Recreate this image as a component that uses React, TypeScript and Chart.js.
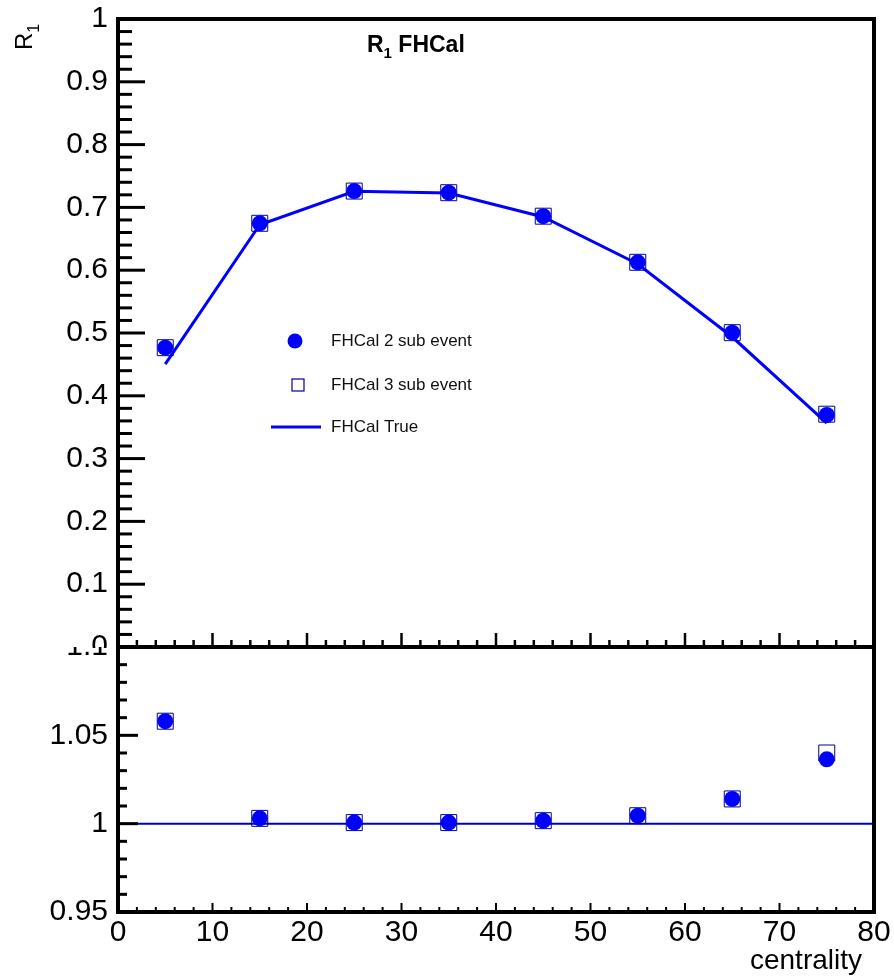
import React, { useEffect, useRef } from 'react';
import { Chart, registerables } from 'chart.js';
Chart.register(...registerables);

// ---------- data ----------
const centrality = [5, 15, 25, 35, 45, 55, 65, 75];
const r1TwoSub = [0.4766, 0.6747, 0.726, 0.7234, 0.686, 0.6126, 0.5005, 0.3694];
const r1ThreeSub = [0.4766, 0.6747, 0.726, 0.7234, 0.686, 0.6126, 0.5005, 0.3707];
const r1True = [0.4505, 0.6724, 0.7256, 0.723, 0.6848, 0.6099, 0.4936, 0.3564];
const ratioTwoSub = [1.058, 1.003, 1.0006, 1.0006, 1.0017, 1.0045, 1.014, 1.0364];
const ratioThreeSub = [1.058, 1.003, 1.0006, 1.0006, 1.0017, 1.0045, 1.014, 1.04];
const unityX = [0, 80];
const unityY = [1, 1];
const legendLabels = ['FHCal 2 sub event', 'FHCal 3 sub event', 'FHCal True'];
const titleMain = 'R';
const titleSub = '1';
const titleRest = ' FHCal';
const yTitleMain = 'R';
const yTitleSub = '1';
const xTitle = 'centrality';

const FONT = "'Liberation Sans', Arial, Helvetica, sans-serif";
const BLUE = '#0000ff';
const NAVY = '#000099';

const pts = (xs: number[], ys: number[]) => xs.map((x, i) => ({ x, y: ys[i] }));
const fmt = (v: any) => String(parseFloat(Number(v).toFixed(2)));

function line(ctx: CanvasRenderingContext2D, x1: number, y1: number, x2: number, y2: number) {
  ctx.beginPath();
  ctx.moveTo(x1, y1);
  ctx.lineTo(x2, y2);
  ctx.stroke();
}

const zeroPad = (s: any) => {
  s.paddingTop = 0;
  s.paddingBottom = 0;
  s.paddingLeft = 0;
  s.paddingRight = 0;
};

export default function App() {
  const topRef = useRef<HTMLCanvasElement>(null);
  const botRef = useRef<HTMLCanvasElement>(null);

  useEffect(() => {
    const topPlugin = {
      id: 'topFrame',
      afterDraw(chart: any) {
        const ctx: CanvasRenderingContext2D = chart.ctx;
        const xs = chart.scales.x;
        const ys = chart.scales.y;
        const a = chart.chartArea;
        ctx.save();
        ctx.strokeStyle = '#000';
        ctx.lineWidth = 3;
        for (let i = 0; i <= 50; i++) {
          const y = ys.getPixelForValue(i * 0.02);
          const len = i % 5 === 0 ? 27 : 14;
          line(ctx, a.left, y, a.left + len, y);
        }
        ctx.lineWidth = 2.5;
        for (let i = 0; i <= 40; i++) {
          const x = xs.getPixelForValue(i * 2);
          const len = i % 5 === 0 ? 14 : 7;
          line(ctx, x, a.bottom, x, a.bottom - len);
        }
        ctx.lineWidth = 4;
        ctx.strokeRect(a.left, a.top, a.right - a.left, a.bottom - a.top);

        // title
        ctx.fillStyle = '#000';
        ctx.textBaseline = 'alphabetic';
        ctx.textAlign = 'left';
        let tx = 367;
        ctx.font = `bold 23px ${FONT}`;
        ctx.fillText(titleMain, tx, 52);
        tx += ctx.measureText(titleMain).width;
        ctx.font = `bold 15px ${FONT}`;
        ctx.fillText(titleSub, tx, 58);
        tx += ctx.measureText(titleSub).width;
        ctx.font = `bold 23px ${FONT}`;
        ctx.fillText(titleRest, tx, 52);

        // y title
        ctx.save();
        ctx.translate(32, 50);
        ctx.rotate(-Math.PI / 2);
        ctx.font = `24px ${FONT}`;
        ctx.fillText(yTitleMain, 0, 0);
        const w = ctx.measureText(yTitleMain).width;
        ctx.font = `16px ${FONT}`;
        ctx.fillText(yTitleSub, w, 7);
        ctx.restore();

        // legend
        ctx.font = `17px ${FONT}`;
        ctx.textBaseline = 'middle';
        ctx.fillStyle = '#111';
        ctx.fillText(legendLabels[0], 331, 341);
        ctx.fillText(legendLabels[1], 331, 385);
        ctx.fillText(legendLabels[2], 331, 427);
        ctx.fillStyle = BLUE;
        ctx.beginPath();
        ctx.arc(295, 341, 7.5, 0, Math.PI * 2);
        ctx.fill();
        ctx.strokeStyle = NAVY;
        ctx.lineWidth = 1.2;
        ctx.strokeRect(292, 379, 12, 12);
        ctx.strokeStyle = BLUE;
        ctx.lineWidth = 3;
        line(ctx, 271, 427, 321, 427);
        ctx.restore();
      },
    };

    const botPlugin = {
      id: 'botFrame',
      afterDraw(chart: any) {
        const ctx: CanvasRenderingContext2D = chart.ctx;
        const xs = chart.scales.x;
        const ys = chart.scales.y;
        const a = chart.chartArea;
        ctx.save();
        ctx.strokeStyle = '#000';
        ctx.lineWidth = 3;
        for (let i = 0; i <= 15; i++) {
          const y = ys.getPixelForValue(0.95 + i * 0.01);
          const len = i % 5 === 0 ? 20 : 9;
          line(ctx, a.left, y, a.left + len, y);
        }
        ctx.lineWidth = 2;
        for (let i = 0; i <= 40; i++) {
          const x = xs.getPixelForValue(i * 2);
          const len = i % 5 === 0 ? 9 : 5;
          line(ctx, x, a.bottom, x, a.bottom - len);
        }
        ctx.lineWidth = 4;
        ctx.strokeRect(a.left, a.top, a.right - a.left, a.bottom - a.top);
        ctx.fillStyle = '#000';
        ctx.font = `28px ${FONT}`;
        ctx.textAlign = 'right';
        ctx.textBaseline = 'alphabetic';
        ctx.fillText(xTitle, 862, 322);
        ctx.restore();
      },
    };

    const top = new Chart(topRef.current!, {
      type: 'scatter',
      data: {
        datasets: [
          {
            label: legendLabels[0],
            data: pts(centrality, r1TwoSub),
            pointStyle: 'circle',
            pointRadius: 8,
            backgroundColor: BLUE,
            borderWidth: 0,
            order: 0,
          },
          {
            label: legendLabels[1],
            data: pts(centrality, r1ThreeSub),
            pointStyle: 'rect',
            pointRadius: 11.3,
            backgroundColor: 'rgba(0,0,0,0)',
            borderColor: NAVY,
            borderWidth: 1,
            order: 1,
          },
          {
            label: legendLabels[2],
            data: pts(centrality, r1True),
            showLine: true,
            pointRadius: 0,
            borderColor: BLUE,
            borderWidth: 3,
            order: 2,
          } as any,
        ],
      },
      options: {
        responsive: false,
        animation: false,
        devicePixelRatio: 1,
        events: [],
        layout: { autoPadding: false, padding: { top: 19, right: 20, left: 0, bottom: 1 } },
        plugins: { legend: { display: false }, tooltip: { enabled: false } },
        scales: {
          x: { type: 'linear', min: 0, max: 80, display: false },
          y: {
            type: 'linear',
            min: 0,
            max: 1,
            afterFit: (s: any) => {
              s.width = 118;
              zeroPad(s);
            },
            grid: { display: false, drawTicks: false },
            border: { display: false },
            ticks: {
              stepSize: 0.1,
              padding: 10,
              color: '#000',
              font: { family: FONT, size: 30 },
              callback: fmt,
            },
          },
        },
      } as any,
      plugins: [topPlugin],
    });

    const bot = new Chart(botRef.current!, {
      type: 'scatter',
      data: {
        datasets: [
          {
            label: legendLabels[0],
            data: pts(centrality, ratioTwoSub),
            pointStyle: 'circle',
            pointRadius: 8,
            backgroundColor: BLUE,
            borderWidth: 0,
            order: 0,
          },
          {
            label: legendLabels[1],
            data: pts(centrality, ratioThreeSub),
            pointStyle: 'rect',
            pointRadius: 11.3,
            backgroundColor: 'rgba(0,0,0,0)',
            borderColor: NAVY,
            borderWidth: 1,
            order: 1,
          },
          {
            label: 'unity',
            data: pts(unityX, unityY),
            showLine: true,
            pointRadius: 0,
            borderColor: '#0000bb',
            borderWidth: 2,
            order: 2,
          } as any,
        ],
      },
      options: {
        responsive: false,
        animation: false,
        devicePixelRatio: 1,
        events: [],
        layout: { autoPadding: false, padding: { top: 0, right: 20, left: 0, bottom: 0 } },
        plugins: { legend: { display: false }, tooltip: { enabled: false } },
        scales: {
          x: {
            type: 'linear',
            min: 0,
            max: 80,
            afterFit: (s: any) => {
              s.height = 67;
              zeroPad(s);
            },
            grid: { display: false, drawTicks: false },
            border: { display: false },
            ticks: {
              stepSize: 10,
              padding: 3,
              maxRotation: 0,
              autoSkip: false,
              color: '#000',
              font: { family: FONT, size: 30 },
              callback: fmt,
            },
          },
          y: {
            type: 'linear',
            min: 0.95,
            max: 1.1,
            afterFit: (s: any) => {
              s.width = 118;
              zeroPad(s);
            },
            grid: { display: false, drawTicks: false },
            border: { display: false },
            ticks: {
              stepSize: 0.05,
              padding: 10,
              color: '#000',
              font: { family: FONT, size: 30 },
              callback: fmt,
            },
          },
        },
      } as any,
      plugins: [botPlugin],
    });

    return () => {
      top.destroy();
      bot.destroy();
    };
  }, []);

  return (
    <div style={{ position: 'fixed', left: 0, top: 0, width: 894, height: 979, background: '#fff' }}>
      <canvas ref={topRef} width={894} height={648} style={{ position: 'absolute', left: 0, top: 0, display: 'block' }} />
      <canvas ref={botRef} width={894} height={332} style={{ position: 'absolute', left: 0, top: 647, display: 'block' }} />
    </div>
  );
}
